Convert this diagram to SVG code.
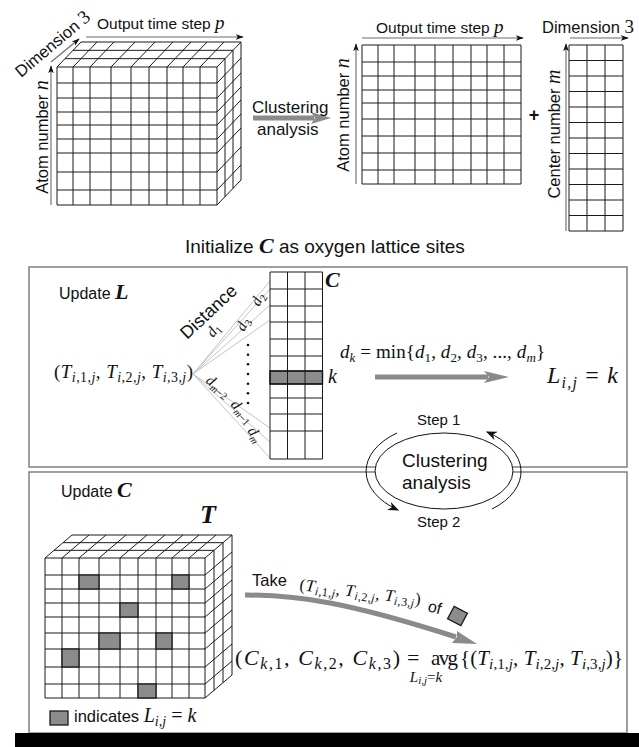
<svg xmlns="http://www.w3.org/2000/svg" width="639" height="747" viewBox="0 0 639 747">
<defs>
<style>
.ln{fill:none;stroke:#1a1a1a;stroke-width:1}
.ax{fill:none;stroke:#6a6a6a;stroke-width:1.1}
.fan{fill:none;stroke:#c4c4c4;stroke-width:1}
.panel{fill:none;stroke:#808080;stroke-width:1.5}
.cell{fill:#8c8c8c;stroke:#1a1a1a;stroke-width:1.3}
.sans{font-family:"Liberation Sans",Arial,sans-serif;fill:#111}
.mr{font-family:"Liberation Serif","Times New Roman",serif;fill:#111;font-style:normal}
.it{font-style:italic}
.bi{font-style:italic;font-weight:bold}
.garrow{fill:none;stroke:#8a8a8a;stroke-width:5}
.gfill{fill:#8a8a8a}
.arc{fill:none;stroke:#111;stroke-width:1}
</style>
<marker id="ah" viewBox="0 0 10 10" refX="9" refY="5" markerWidth="8" markerHeight="8" orient="auto" markerUnits="userSpaceOnUse">
<path d="M0,1.5 L10,5 L0,8.5 L2.5,5 z" fill="#111"/>
</marker>
<marker id="ah2" viewBox="0 0 10 10" refX="9" refY="5" markerWidth="11" markerHeight="11" orient="auto" markerUnits="userSpaceOnUse">
<path d="M0,1 L10,5 L0,9 L3,5 z" fill="#111"/>
</marker>
</defs>
<rect x="0" y="0" width="639" height="747" fill="#fff"/>

<!-- top-left tensor -->
<g id="tensor-input">
<path class="ln" d="M57 67V205M73 67V205M90 67V205M111 67V205M131 67V205M149 67V205M167 67V205M183 67V205M200 67V205M217 67V205
M57 67H217M57 83H217M57 98H217M57 112H217M57 125H217M57 139H217M57 153H217M57 172H217M57 190H217M57 205H217
M57 67l24 -25M73 67l24 -25M90 67l24 -25M111 67l24 -25M131 67l24 -25M149 67l24 -25M167 67l24 -25M183 67l24 -25M200 67l24 -25
M65 58.67H225M73 50.33H233M81 42H241
M217 67l24 -25M217 83l24 -25M217 98l24 -25M217 112l24 -25M217 125l24 -25M217 139l24 -25M217 153l24 -25M217 172l24 -25M217 190l24 -25M217 205l24 -25
M225 58.67V196.67M233 50.33V188.33M241 42V180"/>
<text class="sans" font-size="16.5" transform="translate(48,137) rotate(-90)" text-anchor="middle">Atom number <tspan class="mr it" font-size="20">n</tspan></text>
<text class="sans" font-size="16.5" transform="translate(21,78) rotate(-40)">Dimension <tspan class="mr" font-size="19">3</tspan></text>
<text class="sans" font-size="15.5" x="97" y="29">Output time step <tspan class="mr it" font-size="19">p</tspan></text>
</g>

<!-- clustering arrow top -->
<g id="clustering-top">
<line class="garrow" x1="253" y1="118" x2="314" y2="118"/>
<polygon class="gfill" points="311,112 331,118 311,124 315,118"/>
<text class="sans" font-size="17" x="252" y="113">Clustering</text>
<text class="sans" font-size="17" x="257" y="135">analysis</text>
</g>

<!-- L matrix -->
<g id="matrix-L">
<path class="ln" d="M362 45V184M378 45V184M394 45V184M415 45V184M435 45V184M453 45V184M471 45V184M487 45V184M504 45V184M521 45V184
M362 45H521M362 62H521M362 76H521M362 90H521M362 103H521M362 119H521M362 136H521M362 153H521M362 170H521M362 184H521"/>
<text class="sans" font-size="15.5" x="376" y="33">Output time step <tspan class="mr it" font-size="19">p</tspan></text>
<text class="sans" font-size="16.5" transform="translate(349,115) rotate(-90)" text-anchor="middle">Atom number <tspan class="mr it" font-size="20">n</tspan></text>
</g>

<text id="plus" class="sans" font-size="18" font-weight="bold" x="534" y="121" text-anchor="middle">+</text>

<!-- C matrix -->
<g id="matrix-C">
<path class="ln" d="M569 45V231M587 45V231M605 45V231M623 45V231
M569 45H623M569 60.5H623M569 76H623M569 91.5H623M569 107H623M569 122.5H623M569 138H623M569 153.5H623M569 169H623M569 184.5H623M569 200H623M569 215.5H623M569 231H623"/>
<text class="sans" font-size="16.5" x="542" y="33">Dimension <tspan class="mr" font-size="19">3</tspan></text>
<text class="sans" font-size="16.5" transform="translate(560,134) rotate(-90)" text-anchor="middle">Center number <tspan class="mr it" font-size="20">m</tspan></text>
</g>

<g id="axes">
<line class="ax" x1="51" y1="205" x2="51" y2="66" marker-end="url(#ah)"/>
<line class="ax" x1="51" y1="62" x2="79" y2="39" marker-end="url(#ah)"/>
<line class="ax" x1="86" y1="37" x2="243" y2="37" marker-end="url(#ah)"/>
<line class="ax" x1="356" y1="184" x2="356" y2="44" marker-end="url(#ah)"/>
<line class="ax" x1="362" y1="38" x2="523" y2="38" marker-end="url(#ah)"/>
<line class="ax" x1="566" y1="231" x2="566" y2="44" marker-end="url(#ah)"/>
<line class="ax" x1="570" y1="38" x2="628" y2="38" marker-end="url(#ah)"/>
</g>

<text id="init-label" class="sans" font-size="19" x="185" y="253">Initialize <tspan class="mr bi" font-size="22">C</tspan> as oxygen lattice sites</text>

<!-- panels -->
<g id="panel-update-L">
<rect class="panel" x="29" y="267" width="598" height="200"/>
<text class="sans" font-size="16" x="59" y="299">Update <tspan class="mr bi" font-size="22">L</tspan></text>
</g>
<g id="panel-update-C">
<rect class="panel" x="29" y="472" width="598" height="261"/>
<text class="sans" font-size="16" x="61" y="497">Update <tspan class="mr bi" font-size="22">C</tspan></text>
</g>

<!-- distance fan -->
<g id="fan">
<path class="fan" d="M193 374L270 281M193 374L270 289M193 374L270 305M193 374L270 320M193 374L270 428M193 374L270 442M193 374L270 458"/>
<text class="sans" font-size="18" transform="translate(187,340) rotate(-43)">Distance</text>
<text class="mr it" font-size="15" transform="translate(213,338) rotate(-50)">d<tspan class="mr" dy="3" font-size="10.5">1</tspan></text>
<text class="mr it" font-size="15" transform="translate(259,307) rotate(-62)">d<tspan class="mr" dy="3" font-size="10.5">2</tspan></text>
<text class="mr it" font-size="15" transform="translate(244,332) rotate(-62)">d<tspan class="mr" dy="3" font-size="10.5">3</tspan></text>
<text class="mr it" font-size="15" transform="translate(205,382) rotate(38)">d<tspan dy="3" font-size="10.5">m</tspan><tspan class="mr" font-size="10.5">−2</tspan></text>
<text class="mr it" font-size="15" transform="translate(230,405) rotate(48)">d<tspan dy="3" font-size="10.5">m</tspan><tspan class="mr" font-size="10.5">−1</tspan></text>
<text class="mr it" font-size="15" transform="translate(247,431) rotate(55)">d<tspan dy="3" font-size="10.5">m</tspan></text>
<g fill="#111">
<circle cx="248" cy="345" r="1.3"/><circle cx="248" cy="354.7" r="1.3"/><circle cx="248" cy="364.3" r="1.3"/><circle cx="248" cy="374" r="1.3"/><circle cx="248" cy="383.7" r="1.3"/><circle cx="248" cy="393.3" r="1.3"/><circle cx="248" cy="403" r="1.3"/>
</g>
</g>

<g id="tuple-T">
<text class="mr" x="54" y="378" font-size="19" textLength="139">(<tspan class="it">T</tspan><tspan dy="4" font-size="14"><tspan class="it">i</tspan>,1,<tspan class="it">j</tspan></tspan><tspan dy="-4">, <tspan class="it">T</tspan></tspan><tspan dy="4" font-size="14"><tspan class="it">i</tspan>,2,<tspan class="it">j</tspan></tspan><tspan dy="-4">, <tspan class="it">T</tspan></tspan><tspan dy="4" font-size="14"><tspan class="it">i</tspan>,3,<tspan class="it">j</tspan></tspan><tspan dy="-4">)</tspan></text>
</g>

<g id="centers-C">
<rect x="270" y="371" width="52.5" height="13" fill="#8c8c8c"/>
<path class="ln" d="M270 272V459M287.5 272V459M305 272V459M322.5 272V459
M270 272H322.5M270 289H322.5M270 306H322.5M270 322H322.5M270 339H322.5M270 356H322.5M270 371H322.5M270 384H322.5M270 398H322.5M270 414H322.5M270 431H322.5M270 459H322.5"/>
<rect x="270" y="371" width="52.5" height="13" fill="none" stroke="#111" stroke-width="1.4"/>
<text class="mr bi" font-size="22" x="325" y="287">C</text>
<text class="mr it" font-size="20" x="328" y="383">k</text>
</g>

<g id="assign">
<line class="garrow" x1="375" y1="377" x2="488" y2="377"/>
<polygon class="gfill" points="484,371 509,377 484,383 489,377"/>
<text class="mr" x="340" y="358" font-size="19" textLength="205"><tspan class="it">d</tspan><tspan dy="4" font-size="13" class="it">k</tspan><tspan dy="-4"> = min{<tspan class="it">d</tspan></tspan><tspan dy="4" font-size="13">1</tspan><tspan dy="-4">, <tspan class="it">d</tspan></tspan><tspan dy="4" font-size="13">2</tspan><tspan dy="-4">, <tspan class="it">d</tspan></tspan><tspan dy="4" font-size="13">3</tspan><tspan dy="-4">, ..., <tspan class="it">d</tspan></tspan><tspan dy="4" font-size="13" class="it">m</tspan><tspan dy="-4">}</tspan></text>
<text class="mr" x="547" y="383" font-size="24" textLength="71"><tspan class="it">L</tspan><tspan dy="5" font-size="16" class="it">i,j</tspan><tspan dy="-5"> = <tspan class="it">k</tspan></tspan></text>
</g>

<!-- clustering loop -->
<g id="loop">
<ellipse cx="444" cy="471" rx="69" ry="38" fill="#fff" stroke="#111" stroke-width="1"/>
<text class="sans" font-size="19" x="402" y="467">Clustering</text>
<text class="sans" font-size="19" x="402" y="489">analysis</text>
<text class="sans" font-size="15" x="417" y="425">Step 1</text>
<text class="sans" font-size="15" x="417" y="527">Step 2</text>
<path class="arc" d="M397 433A78 48 0 0 0 398 510" marker-end="url(#ah2)"/>
<path class="arc" d="M492 509A78 48 0 0 0 487 432" marker-end="url(#ah2)"/>
</g>

<!-- bottom tensor -->
<g id="tensor-T">
<path class="ln" d="M45 558V698M62 558V698M79 558V698M99 558V698M120 558V698M138 558V698M156 558V698M172 558V698M189 558V698M205 558V698
M45 558H205M45 575H205M45 589H205M45 603H205M45 617H205M45 633H205M45 649H205M45 667H205M45 684H205M45 698H205
M45 558l27 -23M62 558l27 -23M79 558l27 -23M99 558l27 -23M120 558l27 -23M138 558l27 -23M156 558l27 -23M172 558l27 -23M189 558l27 -23
M54 550.33H214M63 542.67H223M72 535H232
M205 558l27 -23M205 575l27 -23M205 589l27 -23M205 603l27 -23M205 617l27 -23M205 633l27 -23M205 649l27 -23M205 667l27 -23M205 684l27 -23M205 698l27 -23
M214 550.33V690.33M223 542.67V682.67M232 535V675"/>
<rect class="cell" x="79" y="575" width="20" height="14"/>
<rect class="cell" x="172" y="575" width="17" height="14"/>
<rect class="cell" x="120" y="603" width="18" height="14"/>
<rect class="cell" x="99" y="633" width="21" height="16"/>
<rect class="cell" x="156" y="633" width="16" height="16"/>
<rect class="cell" x="62" y="649" width="17" height="18"/>
<rect class="cell" x="138" y="684" width="18" height="14"/>
<text class="mr bi" font-size="26" x="200" y="523">T</text>
</g>

<g id="take">
<path class="garrow" d="M245 595C300 595 350 603 456 637"/>
<polygon class="gfill" points="452,643 477,644 457,631 457,637"/>
<text class="sans" font-size="16.5" x="252" y="586">Take</text>
<text class="mr" font-size="17" transform="translate(299,590) rotate(7)" textLength="122">(<tspan class="it">T</tspan><tspan dy="3" font-size="12"><tspan class="it">i</tspan>,1,<tspan class="it">j</tspan></tspan><tspan dy="-3">, <tspan class="it">T</tspan></tspan><tspan dy="3" font-size="12"><tspan class="it">i</tspan>,2,<tspan class="it">j</tspan></tspan><tspan dy="-3">, <tspan class="it">T</tspan></tspan><tspan dy="3" font-size="12"><tspan class="it">i</tspan>,3,<tspan class="it">j</tspan></tspan><tspan dy="-3">)</tspan></text>
<text class="sans" font-size="16" transform="translate(427,611) rotate(15)">of</text>
<rect class="cell" x="-7.5" y="-7" width="15" height="14" transform="translate(457.5,616) rotate(28)"/>
</g>

<g id="update-eq">
<text class="mr" x="235" y="665" font-size="22" textLength="165">(<tspan class="it">C</tspan><tspan dy="4" font-size="16"><tspan class="it">k</tspan>,1</tspan><tspan dy="-4">, <tspan class="it">C</tspan></tspan><tspan dy="4" font-size="16"><tspan class="it">k</tspan>,2</tspan><tspan dy="-4">, <tspan class="it">C</tspan></tspan><tspan dy="4" font-size="16"><tspan class="it">k</tspan>,3</tspan><tspan dy="-4">)</tspan></text>
<text class="mr" x="407" y="665" font-size="22">=</text>
<text class="mr" x="431" y="665" font-size="21" textLength="27">avg</text>
<text class="mr" x="426" y="682" font-size="15" text-anchor="middle"><tspan class="it">L</tspan><tspan dy="2" font-size="11" class="it">i,j</tspan><tspan dy="-2">=<tspan class="it">k</tspan></tspan></text>
<text class="mr" x="460" y="665" font-size="21" textLength="163">{(<tspan class="it">T</tspan><tspan dy="4" font-size="15"><tspan class="it">i</tspan>,1,<tspan class="it">j</tspan></tspan><tspan dy="-4">, <tspan class="it">T</tspan></tspan><tspan dy="4" font-size="15"><tspan class="it">i</tspan>,2,<tspan class="it">j</tspan></tspan><tspan dy="-4">, <tspan class="it">T</tspan></tspan><tspan dy="4" font-size="15"><tspan class="it">i</tspan>,3,<tspan class="it">j</tspan></tspan><tspan dy="-4">)}</tspan></text>
</g>

<g id="legend">
<rect class="cell" x="50" y="711" width="18" height="14"/>
<text class="sans" font-size="16.5" x="74" y="722">indicates <tspan class="mr it" font-size="20">L</tspan><tspan class="mr it" dy="4" font-size="14">i,j</tspan><tspan class="mr" dy="-4" font-size="20"> = <tspan class="it">k</tspan></tspan></text>
</g>

<rect x="15" y="733" width="624" height="14" fill="#000"/>
</svg>
